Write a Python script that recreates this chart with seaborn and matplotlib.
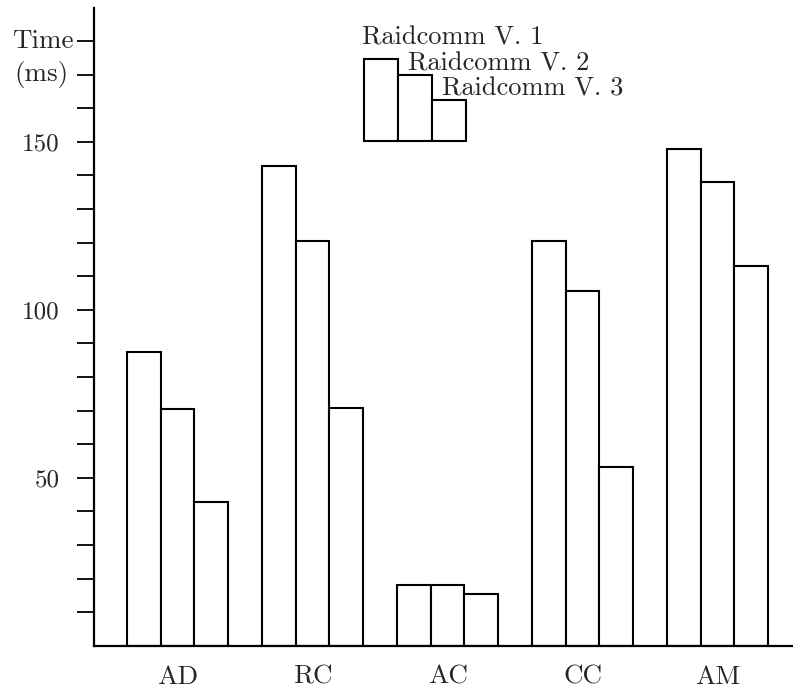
import matplotlib
matplotlib.use("Agg")
import matplotlib.pyplot as plt
from matplotlib.patches import Rectangle
import matplotlib.transforms as mtransforms
import seaborn as sns
import pandas as pd

categories = ["AD", "RC", "AC", "CC", "AM"]
series_names = ["Raidcomm V. 1", "Raidcomm V. 2", "Raidcomm V. 3"]
v1 = [87.5, 142.8, 18.1, 120.4, 147.7]
v2 = [70.4, 120.5, 18.1, 105.6, 137.9]
v3 = [42.8, 70.7, 15.4, 53.1, 113.1]
ytick_values = list(range(10, 190, 10))
ytick_shown = {50: "50", 100: "100", 150: "150"}
legend_heights = [24.4, 19.7, 12.2]  # key-bar heights above the 150 line

rows = []
for s, vals in zip(series_names, [v1, v2, v3]):
    for c, v in zip(categories, vals):
        rows.append({"cat": c, "series": s, "time": v})
df = pd.DataFrame(rows)

sns.set_style("white")
plt.rcParams["font.family"] = ["cmr10", "DejaVu Serif"]
plt.rcParams["axes.formatter.use_mathtext"] = True

fig = plt.figure(figsize=(7.93, 6.89), dpi=100)
ax = fig.add_axes([94 / 793, (689 - 645.7) / 689, (793 - 94) / 793, (645.7 - 8) / 689])

sns.barplot(data=df, x="cat", y="time", hue="series", order=categories,
            hue_order=series_names, palette=["white"] * 3, width=0.75,
            edgecolor="black", linewidth=1.5, saturation=1, legend=False, ax=ax,
            errorbar=None)

ax.set_xlim(-0.619, 4.559)
ax.set_ylim(0, 189.8)
ax.set_xlabel("")
ax.set_ylabel("")

for side in ["top", "right"]:
    ax.spines[side].set_visible(False)
for side in ["left", "bottom"]:
    ax.spines[side].set_linewidth(1.6)
    ax.spines[side].set_color("black")

ax.set_yticks(ytick_values)
ax.set_yticklabels([ytick_shown.get(v, "") for v in ytick_values])
ax.tick_params(axis="y", direction="out", length=12, width=1.3, pad=13,
               labelsize=18, color="black", left=True)
ax.tick_params(axis="x", length=0, pad=14, labelsize=19.5)

# axis unit labels at the top ticks
trans = mtransforms.blended_transform_factory(ax.transAxes, ax.transData)
ax.annotate("Time", xy=(0, 180), xycoords=trans, xytext=(-15, 0),
            textcoords="offset points", ha="right", va="center", fontsize=19.5)
ax.annotate("(ms)", xy=(0, 170), xycoords=trans, xytext=(-18.5, 0),
            textcoords="offset points", ha="right", va="center", fontsize=19.5)

# key: small staircase of bars with labels
x0 = 1.383
w = 0.25
base = 150.2
label_dx = [-0.016, 0.074, 0.074]
label_dy = [4.2, 1.4, 1.5]
for i, (name, h) in enumerate(zip(series_names, legend_heights)):
    ax.add_patch(Rectangle((x0 + i * w, base), w, h, facecolor="white",
                           edgecolor="black", linewidth=1.5, clip_on=False))
    ax.text(x0 + i * w + label_dx[i], base + h + label_dy[i], name,
            ha="left", va="baseline", fontsize=19)

fig.savefig("out.png", dpi=100)
